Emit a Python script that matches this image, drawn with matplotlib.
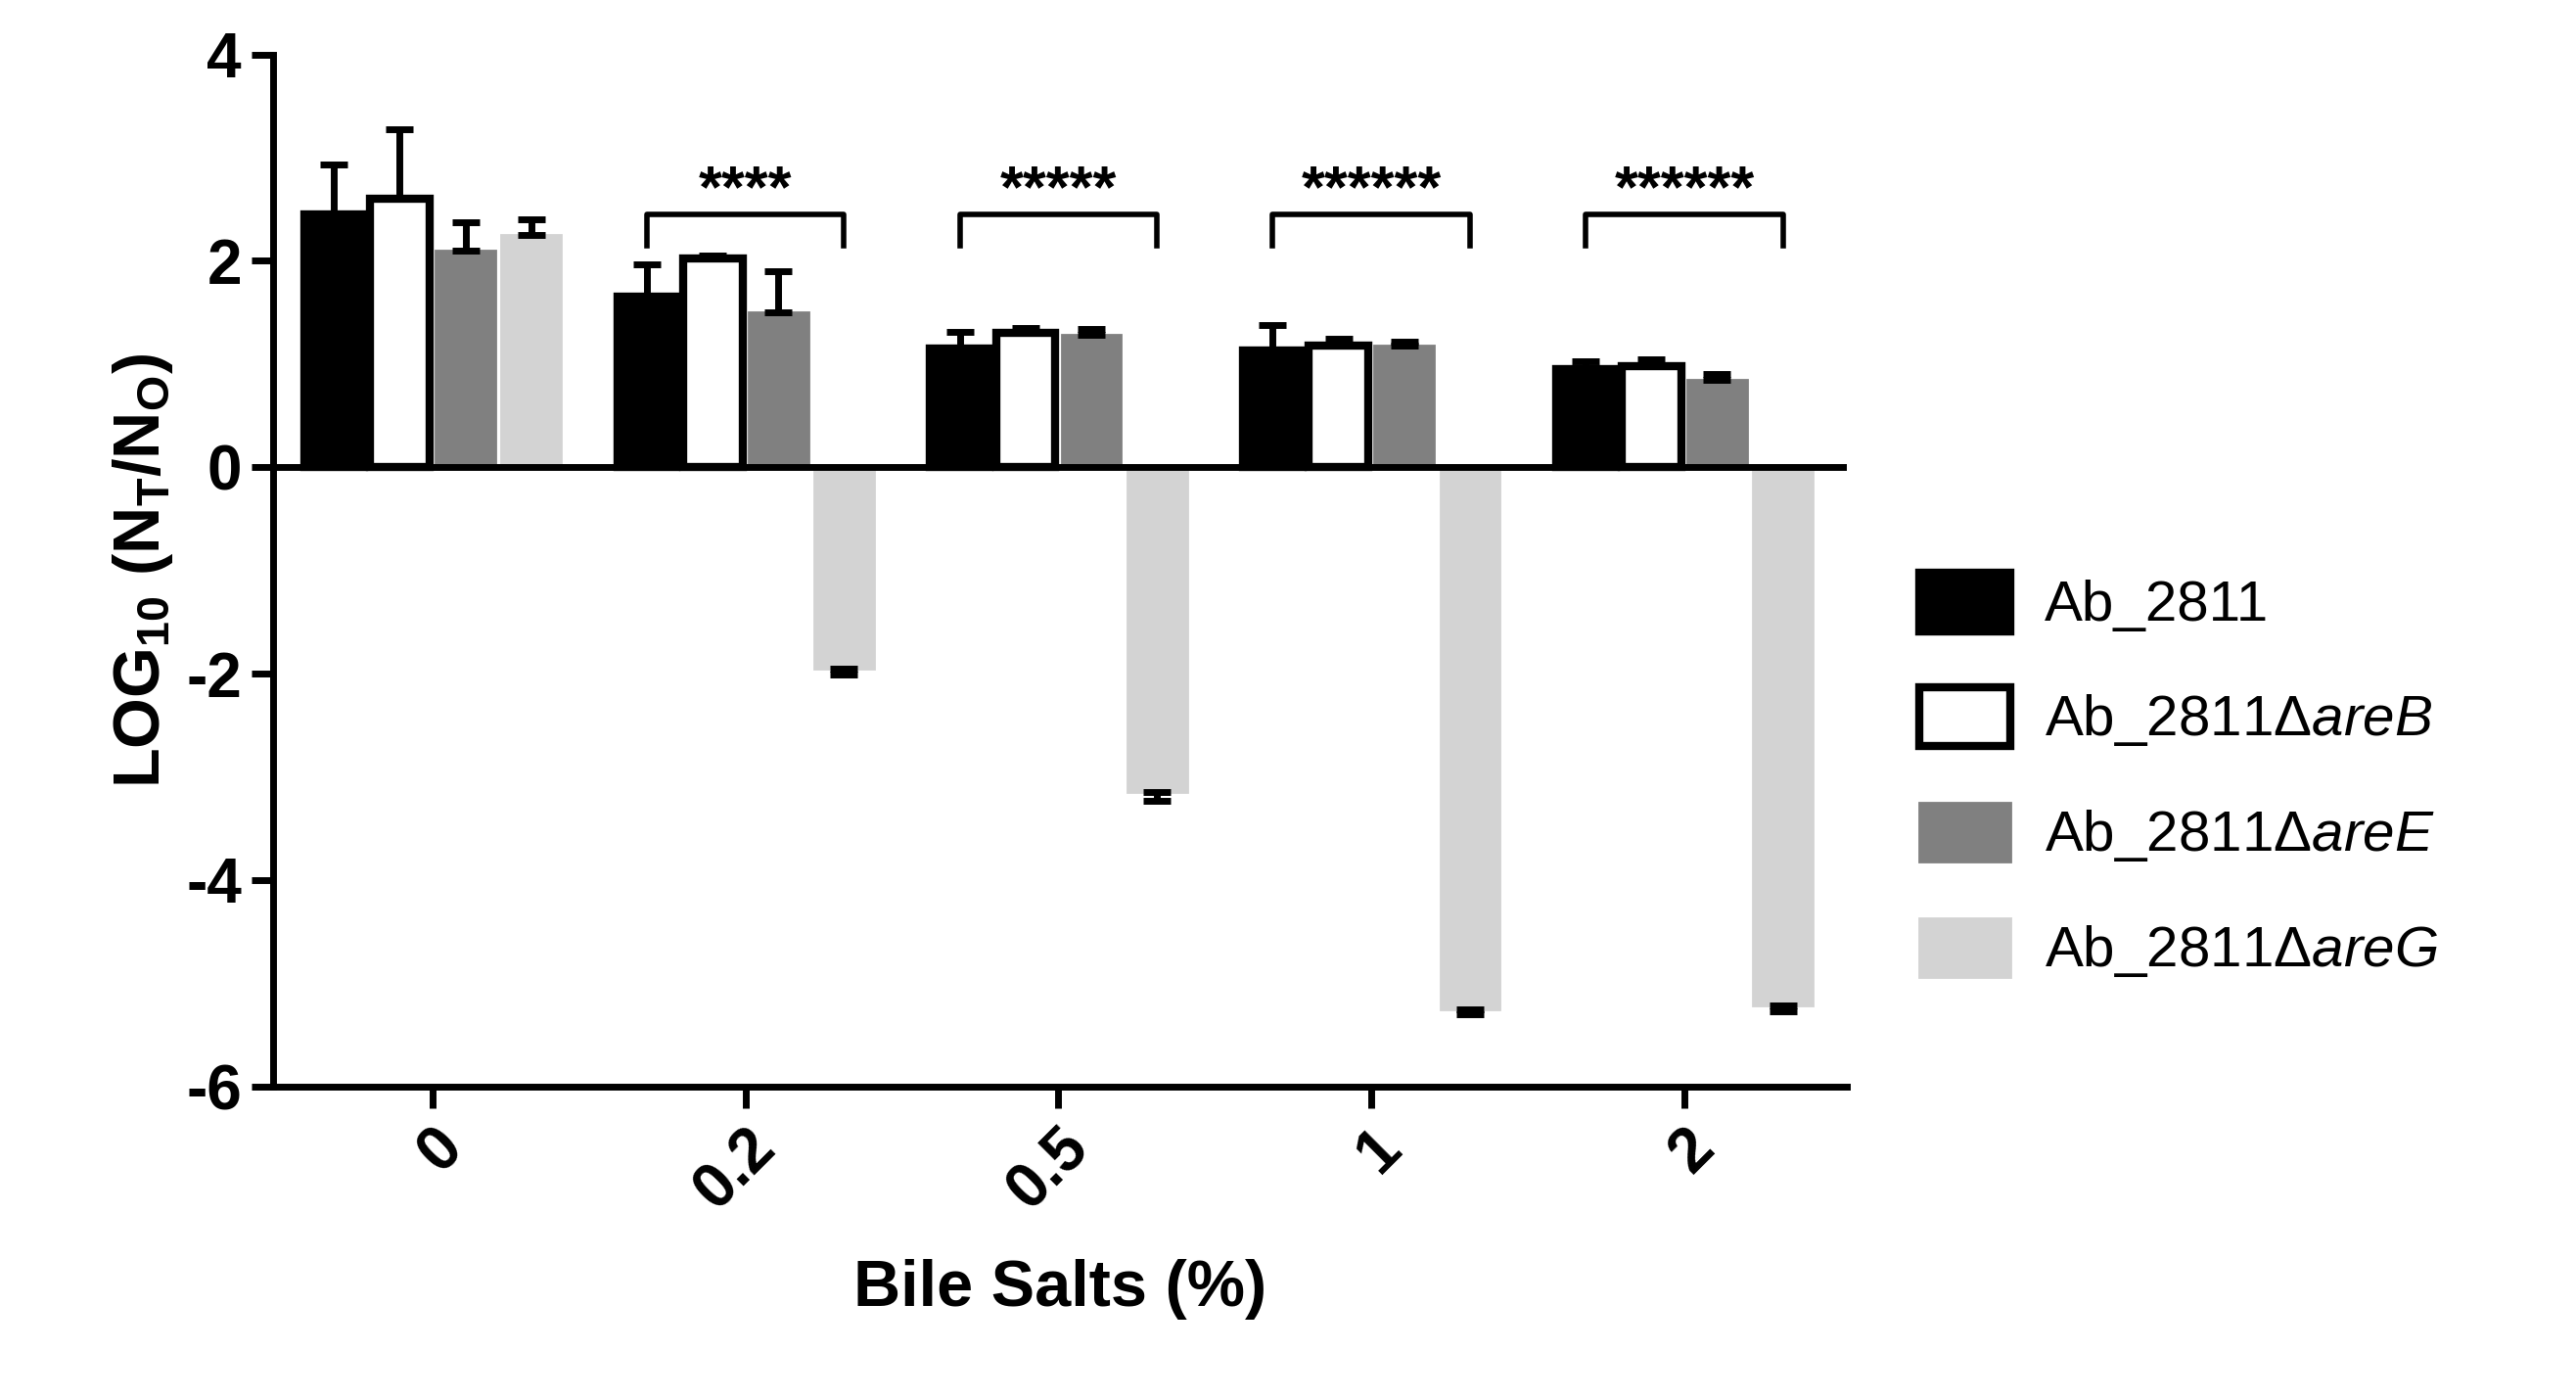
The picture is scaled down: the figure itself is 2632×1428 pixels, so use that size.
import matplotlib
matplotlib.use("Agg")
import matplotlib.pyplot as plt
import numpy as np
from matplotlib.patches import Patch

plt.rcParams['font.family'] = ['Liberation Sans', 'DejaVu Sans']
plt.rcParams['mathtext.fontset'] = 'custom'
plt.rcParams['mathtext.rm'] = 'Liberation Sans'
plt.rcParams['mathtext.it'] = 'Liberation Sans:italic'
plt.rcParams['mathtext.bf'] = 'Liberation Sans:bold'

groups = ['0', '0.2', '0.5', '1', '2']
series = ['Ab_2811', 'Ab_2811Δ$\\it{areB}$', 'Ab_2811Δ$\\it{areE}$', 'Ab_2811Δ$\\it{areG}$']
values = [
    [2.45, 1.65, 1.15, 1.13, 0.95],
    [2.60, 2.02, 1.30, 1.18, 0.98],
    [2.10, 1.50, 1.28, 1.18, 0.85],
    [2.25, -1.95, -3.15, -5.25, -5.22],
]
errors = [
    [0.48, 0.32, 0.16, 0.25, 0.08],
    [0.68, 0.03, 0.05, 0.07, 0.07],
    [0.27, 0.40, 0.06, 0.04, 0.05],
    [0.15, 0.06, 0.08, 0.05, 0.05],
]
stars = ['', '****', '*****', '******', '******']

faces = ['black', 'white', '#808080', '#d3d3d3']
edges = ['black', 'black', '#808080', '#d3d3d3']

fig = plt.figure(figsize=(13.16, 7.14), dpi=200)
ax = fig.add_axes([0.106, 0.223, 0.611, 0.738])
x = np.arange(len(groups))
w = 0.19
step = 0.21
for i in range(4):
    xs = x + (i - 1.5) * step
    v = np.array(values[i]); e = np.array(errors[i])
    lower = np.where(v < 0, e, 0); upper = np.where(v >= 0, e, 0)
    ax.bar(xs, v, w, color=faces[i], edgecolor=edges[i], linewidth=3 if i < 2 else 1, zorder=2)
    ax.errorbar(xs, v, yerr=[lower, upper], fmt='none', ecolor='black', elinewidth=2.5, capsize=5, capthick=2.5, zorder=3)

for g, s in enumerate(stars):
    if not s:
        continue
    x0 = g - 1.5 * step; x1 = g + 1.5 * step
    ax.plot([x0, x0, x1, x1], [2.15, 2.45, 2.45, 2.15], color='black', lw=2, zorder=4)
    ax.text(g, 2.4, s, ha='center', va='bottom', fontsize=22, fontweight='bold')

ax.axhline(0, color='black', lw=2.5, zorder=4)
ax.set_xlim(-0.51, 4.52)
ax.set_ylim(-6, 4)
ax.set_yticks([-6, -4, -2, 0, 2, 4])
ax.set_yticklabels(['-6', '-4', '-2', '0', '2', '4'], fontsize=23, fontweight='bold')
ax.set_xticks(x)
ax.set_xticklabels(groups, fontsize=23, fontweight='bold', rotation=45, ha='right', rotation_mode='anchor')
for sp in ['top', 'right']:
    ax.spines[sp].set_visible(False)
for sp in ['left', 'bottom']:
    ax.spines[sp].set_linewidth(2.5)
ax.tick_params(width=2.5, length=8)
ax.set_ylabel('LOG$_{\\mathbf{10}}$ (N$_\\mathbf{T}$/N$_\\mathbf{O}$)', fontsize=24, fontweight='bold')
ax.set_xlabel('Bile Salts (%)', fontsize=24, fontweight='bold', labelpad=14)

handles = [Patch(facecolor=faces[i], edgecolor='black' if i < 2 else edges[i], linewidth=3 if i < 2 else 1) for i in range(4)]
fig.legend(handles, series, loc='center left', bbox_to_anchor=(0.745, 0.445), frameon=False,
           fontsize=21, handlelength=1.6, handleheight=1.2, labelspacing=0.95, handletextpad=0.6,
           borderpad=0, borderaxespad=0)
fig.savefig('out.png', dpi=200)
